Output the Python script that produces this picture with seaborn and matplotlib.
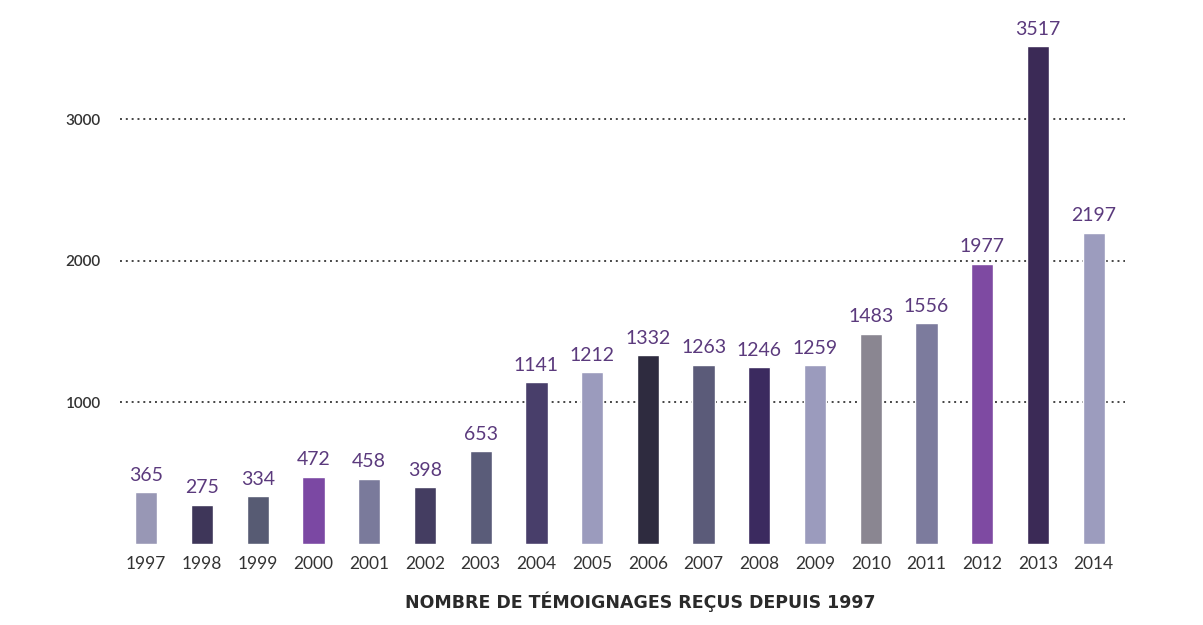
import numpy as np
import pandas as pd
import matplotlib
matplotlib.use("Agg")
import matplotlib.pyplot as plt
import seaborn as sns

# Données
annees = ["1997", "1998", "1999", "2000", "2001", "2002", "2003", "2004", "2005",
          "2006", "2007", "2008", "2009", "2010", "2011", "2012", "2013", "2014"]
temoignages = [365, 275, 334, 472, 458, 398, 653, 1141, 1212,
               1332, 1263, 1246, 1259, 1483, 1556, 1977, 3517, 2197]
couleurs = ["#9897b5", "#3e3659", "#575b73", "#7b48a3", "#7a7a9b", "#443d61",
            "#5a5c79", "#483e6a", "#9b9bbd", "#2e2b3f", "#5b5b79", "#3b2a5f",
            "#9b9bbd", "#8a8691", "#7c7b9d", "#7e4aa2", "#3b2a56", "#9c9cbe"]
graduations = [1000, 2000, 3000]
titre = "NOMBRE DE TÉMOIGNAGES REÇUS DEPUIS 1997"

df = pd.DataFrame({"annee": annees, "valeur": temoignages})

sns.set_theme(style="white")
plt.rcParams["font.family"] = ["Lato", "DejaVu Sans"]

fig = plt.figure(figsize=(12.03, 6.25), dpi=100)
ax = fig.add_axes([0.0998, 0.1304, 0.8353, 0.8603])

sns.barplot(data=df, x="annee", y="valeur", hue="annee", palette=couleurs,
            width=0.4, saturation=1, legend=False, ax=ax, zorder=3)

# Étiquettes de valeurs au-dessus des barres
for cont in ax.containers:
    ax.bar_label(cont, padding=6, color="#5b3a7d", fontsize=14)

ax.set_xlim(-0.47, 17.56)
ax.set_ylim(0, 3800)
ax.set_yticks(graduations)
ax.set_yticklabels([str(g) for g in graduations], fontsize=11,
                   color="#333333", fontweight="semibold")
ax.tick_params(axis="y", length=0, pad=14)
ax.tick_params(axis="x", length=0, pad=9, labelsize=12.5, colors="#333333")
ax.yaxis.grid(True, linestyle=(0, (1, 2)), color="#444444", linewidth=1.4, zorder=0)
ax.xaxis.grid(False)
sns.despine(ax=ax, left=True, bottom=True)
ax.set_xlabel("")
ax.set_ylabel("")

# Titre en bas, police plus large pour rappeler l'espacement de l'original
fig.text(640 / 1203, 1 - 602 / 625, titre, ha="center", va="center",
         fontsize=12.5, fontweight="bold", color="#2a2a2a",
         family=["DejaVu Sans"])

fig.savefig("out.png", dpi=100)
